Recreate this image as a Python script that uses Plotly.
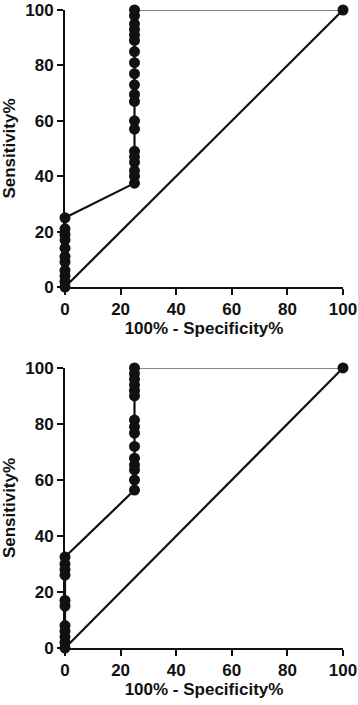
import plotly.graph_objects as go

# Top ROC curve
top_fpr = [0]*11 + [25]*20 + [100]
top_sens = [0, 2, 4, 6, 9, 11, 14, 17, 19, 21, 25,
            37.5, 40, 42, 45, 47, 49, 57, 60, 67, 69.5, 73, 77, 81, 85,
            89, 91, 93, 95, 98, 100,
            100]
# Bottom ROC curve
bot_fpr = [0]*11 + [25]*16 + [100]
bot_sens = [0, 2, 4, 6, 8, 15, 17, 26, 28, 30, 32.5,
            56.4, 60, 63.6, 65.4, 67.8, 72, 76.7, 79, 81.4,
            90, 92, 94, 96, 98, 100,
            100]
ref_x = [0, 100]
ref_y = [0, 100]
tick_vals = [0, 20, 40, 60, 80, 100]
tick_text = ["0", "20", "40", "60", "80", "100"]
x_title = "100% - Specificity%"
y_title = "Sensitivity%"

BLACK = "#111111"
fig = go.Figure()

def add_roc(fpr, sens, xa, ya):
    fig.add_trace(go.Scatter(x=fpr[:-1], y=sens[:-1], mode="lines+markers",
                             line=dict(color=BLACK, width=2.2),
                             marker=dict(color=BLACK, size=11),
                             cliponaxis=False, xaxis=xa, yaxis=ya, showlegend=False))
    fig.add_trace(go.Scatter(x=fpr[-2:], y=sens[-2:], mode="lines",
                             line=dict(color=BLACK, width=1.2),
                             cliponaxis=False, xaxis=xa, yaxis=ya, showlegend=False))
    fig.add_trace(go.Scatter(x=fpr[-1:], y=sens[-1:], mode="markers",
                             marker=dict(color=BLACK, size=11),
                             cliponaxis=False, xaxis=xa, yaxis=ya, showlegend=False))
    fig.add_trace(go.Scatter(x=ref_x, y=ref_y, mode="lines",
                             line=dict(color=BLACK, width=2.2),
                             cliponaxis=False, xaxis=xa, yaxis=ya, showlegend=False))

add_roc(top_fpr, top_sens, "x", "y")
add_roc(bot_fpr, bot_sens, "x2", "y2")

FAM = "Liberation Sans, Arial, sans-serif"
font_tick = dict(family=FAM, size=17, color=BLACK, weight="bold")
font_title = dict(family=FAM, size=17, color=BLACK, weight="bold")

def xaxis(anchor):
    return dict(range=[0, 100], tickvals=tick_vals, ticktext=["<b>%s</b>" % t for t in tick_text],
                ticks="outside", ticklen=6, tickwidth=2, ticklabeloverflow="allow", automargin=False,
                tickcolor=BLACK, showline=True, linecolor=BLACK, linewidth=2,
                showgrid=False, zeroline=False, tickfont=font_tick, anchor=anchor,
                domain=[0, 1], title=dict(text="<b>%s</b>" % x_title, font=font_title, standoff=4))

def yaxis(anchor, dom):
    return dict(range=[0, 100], tickvals=tick_vals, ticktext=["<b>%s</b>" % t for t in tick_text],
                ticks="outside", ticklen=6, tickwidth=2, ticklabeloverflow="allow", automargin=False,
                tickcolor=BLACK, showline=True, linecolor=BLACK, linewidth=2,
                showgrid=False, zeroline=False, tickfont=font_tick, anchor=anchor,
                domain=dom, title=dict(text="<b>%s</b>" % y_title, font=font_title, standoff=6))

fig.update_layout(
    width=358, height=705,
    margin=dict(l=65, r=15, t=10, b=57),
    paper_bgcolor="white", plot_bgcolor="white",
    xaxis=xaxis("y"), yaxis=yaxis("x", [0.5658, 1.0]),
    xaxis2=xaxis("y2"), yaxis2=yaxis("x2", [0.0, 0.4389]),
)

fig.write_html("out.html", config={"displayModeBar": False})
with open("out.html", "r", encoding="utf-8") as f:
    html = f.read()
html = html.replace("<head>", "<head><style>html,body{margin:0;padding:0;overflow:hidden;}</style>", 1)
with open("out.html", "w", encoding="utf-8") as f:
    f.write(html)
